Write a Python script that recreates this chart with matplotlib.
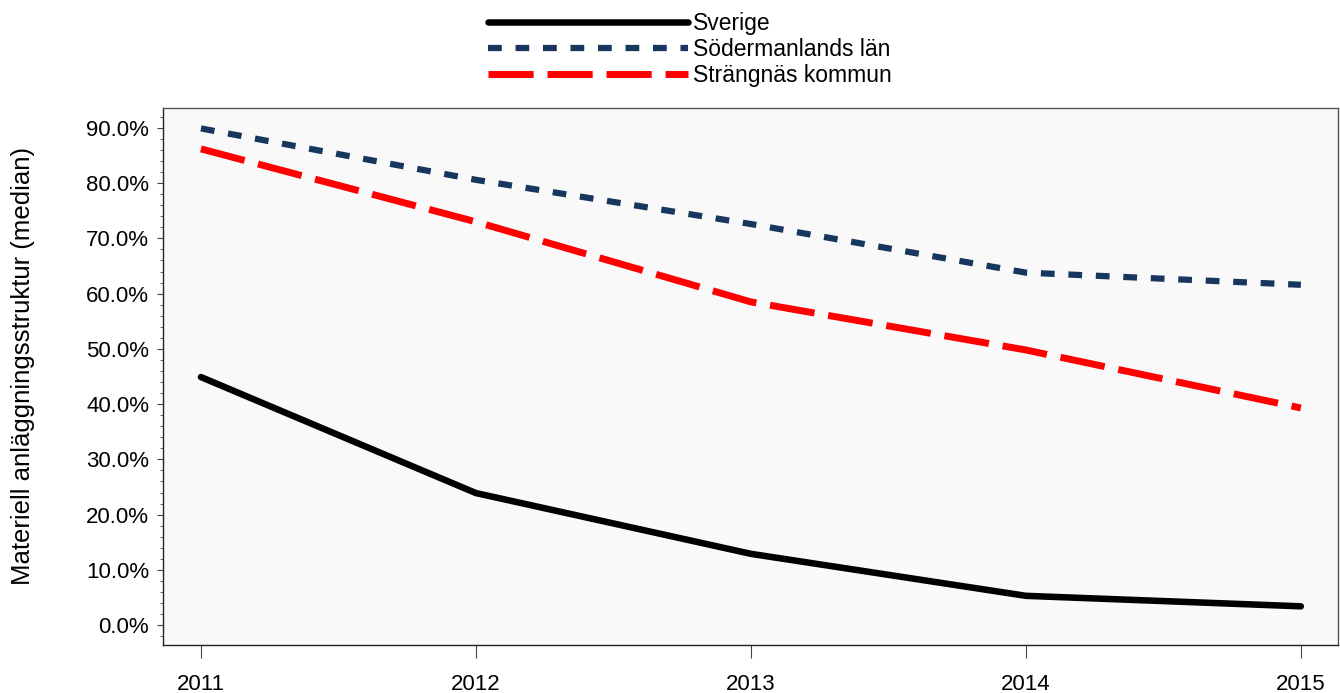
import matplotlib
matplotlib.use("Agg")
import matplotlib.pyplot as plt
from matplotlib.ticker import MultipleLocator, FuncFormatter

years = [2011, 2012, 2013, 2014, 2015]
sverige = [44.9, 23.9, 12.9, 5.3, 3.4]
sodermanland = [89.9, 80.6, 72.6, 63.8, 61.6]
strangnas = [86.2, 73.0, 58.5, 49.8, 39.3]
labels = ["Sverige", "Södermanlands län", "Strängnäs kommun"]

plt.rcParams['font.family'] = ['Liberation Sans', 'DejaVu Sans']

fig = plt.figure(figsize=(13.4, 6.93), dpi=100)
ax = fig.add_axes([163/1340, 1 - 645/693, (1338 - 163)/1340, (645 - 108)/693])
ax.set_facecolor('#f9f9f9')

ax.plot(years, sverige, color='black', lw=4.7, solid_capstyle='round', label=labels[0])
ax.plot(years, sodermanland, color='#17375e', lw=4.5, dashes=(2.2, 2.2), label=labels[1])
ax.plot(years, strangnas, color='#ff0000', lw=5, dashes=(6.5, 2), label=labels[2])

ax.set_xlim(2010.862, 2015.135)
ax.set_ylim(-3.6, 93.6)
ax.set_xticks(years)
ax.yaxis.set_major_locator(MultipleLocator(10))
ax.yaxis.set_minor_locator(MultipleLocator(2))
ax.yaxis.set_major_formatter(FuncFormatter(lambda v, p: f"{v:.1f}%"))
ax.tick_params(axis='both', which='major', labelsize=16, color='#444444')
ax.tick_params(axis='y', which='major', length=4, pad=6)
ax.tick_params(axis='x', which='major', length=9, pad=12)
ax.tick_params(axis='y', which='minor', length=2.5, color='#444444')
ax.set_ylabel("Materiell anläggningsstruktur (median)", fontsize=18.5)
ax.yaxis.set_label_coords(-0.109, 0.52)

for s in ax.spines.values():
    s.set_color('#555555')
    s.set_linewidth(1)
ax.spines['left'].set_color('#222222')
ax.spines['bottom'].set_color('#222222')

fig.legend(loc='upper center', bbox_to_anchor=(0.515, 1.012), frameon=False, fontsize=16.5,
           handlelength=8.7, labelspacing=0.12, handletextpad=0.25)

fig.savefig("out.png", dpi=100)
